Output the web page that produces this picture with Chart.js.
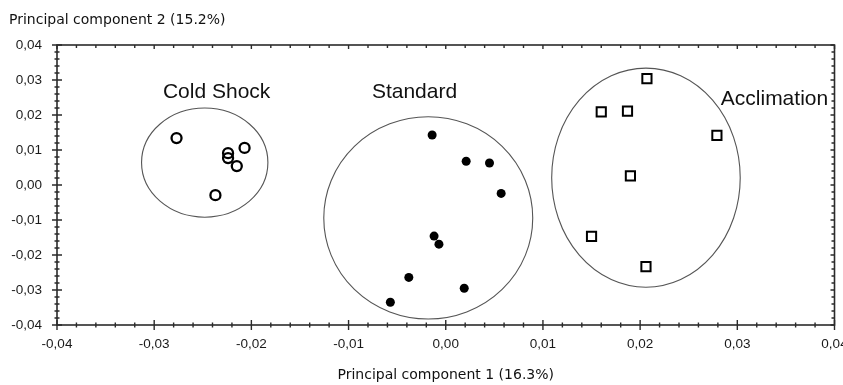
<!DOCTYPE html>
<html>
<head>
<meta charset="utf-8">
<script src="https://cdn.jsdelivr.net/npm/chart.js@4.4.1/dist/chart.umd.min.js"></script>
<style>
  html, body { margin: 0; padding: 0; background: #fff; }
  #wrap { width: 843px; height: 385px; }
</style>
</head>
<body>
<div id="wrap"><canvas id="pca" width="843" height="385"></canvas></div>
<script>
// 各グループの主成分スコア (PC1, PC2)
const coldShockX = [-0.0277, -0.0224, -0.0207, -0.0224, -0.0215, -0.0237];
const coldShockY = [0.0134, 0.0091, 0.0106, 0.0077, 0.0054, -0.0029];
const standardX = [-0.0014, 0.0021, 0.0045, 0.0057, -0.0012, -0.0007, -0.0038, 0.0019, -0.0057];
const standardY = [0.0143, 0.0068, 0.0063, -0.0024, -0.0146, -0.0169, -0.0264, -0.0295, -0.0335];
const acclimationX = [0.0207, 0.0160, 0.0187, 0.0279, 0.0190, 0.0150, 0.0206];
const acclimationY = [0.0304, 0.0209, 0.0211, 0.0142, 0.0026, -0.0147, -0.0233];

// グループを囲む楕円 (中心と半径, データ単位)
const groupNames = ['Cold Shock', 'Standard', 'Acclimation'];
const ellipseCx = [-0.0248, -0.0018, 0.0206];
const ellipseCy = [0.0064, -0.0094, 0.0021];
const ellipseRx = [0.0065, 0.01075, 0.0097];
const ellipseRy = [0.0156, 0.0289, 0.0313];
const nameX = [-0.0291, -0.0076, 0.0283];
const nameY = [0.0249, 0.0249, 0.0229];

// 軸目盛
const majorTicks = [-0.04, -0.03, -0.02, -0.01, 0, 0.01, 0.02, 0.03, 0.04];
const tickLabels = ['-0,04', '-0,03', '-0,02', '-0,01', '0,00', '0,01', '0,02', '0,03', '0,04'];
const minorPerMajor = 5;

const xTitle = 'Principal component 1 (16.3%)';
const yTitle = 'Principal component 2 (15.2%)';

function toPoints(xs, ys) {
    return xs.map((x, i) => ({ x: x, y: ys[i] }));
}

// 主目盛の間に副目盛を入れる
function buildTicks(scale) {
    const ticks = [];
    for (let i = 0; i < majorTicks.length; i++) {
        ticks.push({ value: majorTicks[i], major: true });
        if (i < majorTicks.length - 1) {
            const step = (majorTicks[i + 1] - majorTicks[i]) / minorPerMajor;
            for (let k = 1; k < minorPerMajor; k++) {
                ticks.push({ value: majorTicks[i] + step * k, major: false });
            }
        }
    }
    scale.ticks = ticks;
}

function tickLabel(value) {
    const idx = majorTicks.findIndex(m => Math.abs(m - value) < 1e-9);
    return idx >= 0 ? tickLabels[idx] : '';
}

const frameColor = '#2b2b2b';

// 楕円・枠線・目盛・グループ名を描くプラグイン
const pcaDecor = {
    id: 'pcaDecor',
    beforeDatasetsDraw(chart) {
        const { ctx, scales: { x, y } } = chart;
        ctx.save();
        ctx.strokeStyle = '#555';
        ctx.lineWidth = 1.1;
        for (let i = 0; i < ellipseCx.length; i++) {
            const cx = x.getPixelForValue(ellipseCx[i]);
            const cy = y.getPixelForValue(ellipseCy[i]);
            const rx = Math.abs(x.getPixelForValue(ellipseCx[i] + ellipseRx[i]) - cx);
            const ry = Math.abs(y.getPixelForValue(ellipseCy[i] + ellipseRy[i]) - cy);
            ctx.beginPath();
            ctx.ellipse(cx, cy, rx, ry, 0, 0, Math.PI * 2);
            ctx.stroke();
        }
        ctx.restore();
    },
    afterDatasetsDraw(chart) {
        const { ctx, chartArea: a, scales: { x, y } } = chart;
        ctx.save();

        // グループ名
        ctx.fillStyle = '#111';
        ctx.font = '21px "Liberation Sans", Arial, sans-serif';
        ctx.textAlign = 'left';
        ctx.textBaseline = 'alphabetic';
        for (let i = 0; i < groupNames.length; i++) {
            ctx.fillText(groupNames[i], x.getPixelForValue(nameX[i]), y.getPixelForValue(nameY[i]));
        }

        // 枠線
        ctx.strokeStyle = frameColor;
        ctx.lineWidth = 1.6;
        ctx.strokeRect(a.left, a.top, a.right - a.left, a.bottom - a.top);

        // 目盛 (下・左は軸をまたぐ, 上・右は内向き)
        ctx.lineWidth = 1.4;
        ctx.beginPath();
        x.ticks.forEach(t => {
            const px = x.getPixelForValue(t.value);
            const len = t.major ? 5 : 2.5;
            ctx.moveTo(px, a.bottom - len);
            ctx.lineTo(px, a.bottom + len);
            ctx.moveTo(px, a.top);
            ctx.lineTo(px, a.top + (t.major ? 4 : 3));
        });
        y.ticks.forEach(t => {
            const py = y.getPixelForValue(t.value);
            const len = t.major ? 5 : 2.5;
            ctx.moveTo(a.left - len, py);
            ctx.lineTo(a.left + len, py);
            ctx.moveTo(a.right, py);
            ctx.lineTo(a.right - (t.major ? 4 : 3), py);
        });
        ctx.stroke();

        // 縦軸タイトル (左上, 横書き)
        ctx.fillStyle = '#111';
        ctx.font = '14px "DejaVu Sans", sans-serif';
        ctx.textBaseline = 'middle';
        ctx.fillText(yTitle, 9, 20);
        ctx.restore();
    }
};

const tickFont = { family: '"Liberation Sans", Arial, sans-serif', size: 13.5 };

new Chart(document.getElementById('pca').getContext('2d'), {
    type: 'scatter',
    data: {
        datasets: [
            {
                label: 'Cold Shock',
                data: toPoints(coldShockX, coldShockY),
                pointStyle: 'circle',
                pointRadius: 5,
                pointBorderWidth: 2.3,
                borderColor: '#000',
                backgroundColor: 'rgba(255,255,255,0)'
            },
            {
                label: 'Standard',
                data: toPoints(standardX, standardY),
                pointStyle: 'circle',
                pointRadius: 4.5,
                pointBorderWidth: 0,
                borderColor: '#000',
                backgroundColor: '#000'
            },
            {
                label: 'Acclimation',
                data: toPoints(acclimationX, acclimationY),
                pointStyle: 'rect',
                pointRadius: 6.5,
                pointBorderWidth: 2,
                borderColor: '#000',
                backgroundColor: 'rgba(255,255,255,0)'
            }
        ]
    },
    options: {
        responsive: false,
        animation: false,
        layout: { padding: { top: 45, right: 8, left: 0, bottom: 0 } },
        plugins: {
            legend: { display: false },
            tooltip: { enabled: false }
        },
        scales: {
            x: {
                type: 'linear',
                min: -0.04,
                max: 0.04,
                afterBuildTicks: buildTicks,
                afterFit(scale) {
                    scale.height = 60;
                    scale.paddingLeft = 0;
                    scale.paddingRight = 0;
                },
                grid: { display: false, drawTicks: false },
                border: { display: false },
                ticks: {
                    autoSkip: false,
                    maxRotation: 0,
                    padding: 11,
                    color: '#1a1a1a',
                    font: tickFont,
                    callback: tickLabel
                },
                title: {
                    display: true,
                    text: xTitle,
                    color: '#111',
                    font: { family: '"DejaVu Sans", sans-serif', size: 14 },
                    padding: { top: 0, bottom: 1 }
                }
            },
            y: {
                type: 'linear',
                min: -0.04,
                max: 0.04,
                afterBuildTicks: buildTicks,
                afterFit(scale) {
                    scale.width = 57;
                    scale.paddingTop = 0;
                    scale.paddingBottom = 0;
                },
                grid: { display: false, drawTicks: false },
                border: { display: false },
                ticks: {
                    autoSkip: false,
                    padding: 15,
                    color: '#1a1a1a',
                    font: tickFont,
                    callback: tickLabel
                }
            }
        }
    },
    plugins: [pcaDecor]
});
</script>
</body>
</html>
